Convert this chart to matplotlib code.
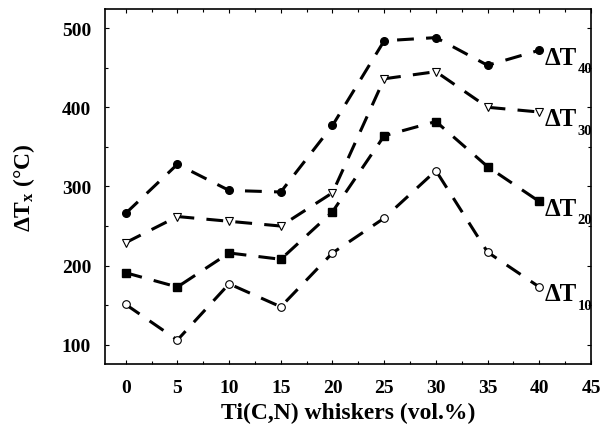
import matplotlib
matplotlib.use("Agg")
import matplotlib.pyplot as plt
from matplotlib.ticker import MultipleLocator

plt.rcParams['font.family'] = ['Liberation Serif', 'DejaVu Serif']
plt.rcParams['font.weight'] = 'bold'
plt.rcParams['mathtext.fontset'] = 'custom'
plt.rcParams['mathtext.rm'] = 'Liberation Serif:bold'
plt.rcParams['mathtext.it'] = 'Liberation Serif:bold'
plt.rcParams['mathtext.bf'] = 'Liberation Serif:bold'

whiskers = [0, 5, 10, 15, 20, 25, 30, 35, 40]
dT40 = [266, 328, 295, 293, 377, 484, 488, 453, 472]
dT30 = [229, 262, 256, 250, 292, 436, 445, 400, 394]
dT20 = [191, 173, 216, 208, 268, 364, 382, 325, 281]
dT10 = [151, 106, 177, 148, 216, 260, 320, 217, 173]
labels = ["40", "30", "20", "10"]

fig = plt.figure(figsize=(6.0, 4.39), dpi=100)
ax = fig.add_axes([0.175, 0.169, 0.81, 0.808])

series = [
    (dT40, dict(marker='o', mfc='black', mec='black', ms=5.5)),
    (dT30, dict(marker='v', mfc='white', mec='black', ms=5.5, mew=0.8)),
    (dT20, dict(marker='s', mfc='black', mec='black', ms=5.5)),
    (dT10, dict(marker='o', mfc='white', mec='black', ms=5.5, mew=0.8)),
]
for (vals, style), lab in zip(series, labels):
    ax.plot(whiskers, vals, color='black', lw=2.2, dashes=(5.5, 4), **style)
    ax.annotate("ΔT", xy=(whiskers[-1], vals[-1]),
                xytext=(4, -5), textcoords='offset points',
                ha='left', va='center', fontsize=18, fontweight='bold')
    ax.annotate(lab, xy=(whiskers[-1], vals[-1]),
                xytext=(27.5, -13), textcoords='offset points',
                ha='left', va='center', fontsize=10.5, fontweight='bold')

ax.set_xlim(-2, 45)
ax.set_ylim(76, 524)
ax.set_xticks(range(0, 46, 5))
ax.set_yticks([100, 200, 300, 400, 500])
ax.yaxis.set_minor_locator(MultipleLocator(50))
ax.xaxis.set_minor_locator(MultipleLocator(2.5))
ax.tick_params(which='both', direction='in', top=True, right=True,
               labelsize=14, width=0.8)
ax.tick_params(which='major', length=3)
ax.tick_params(which='minor', length=2)
ax.tick_params(axis='x', pad=11)
ax.tick_params(axis='y', pad=10)
for lbl in ax.get_xticklabels() + ax.get_yticklabels():
    lbl.set_fontweight('bold')
for sp in ax.spines.values():
    sp.set_linewidth(1.2)

ax.set_xlabel("Ti(C,N) whiskers (vol.%)", fontsize=17, fontweight='bold', labelpad=4)
ax.set_ylabel("ΔT$_{x}$ (°C)", fontsize=17, fontweight='bold', labelpad=18)

fig.savefig("out.png", dpi=100)
